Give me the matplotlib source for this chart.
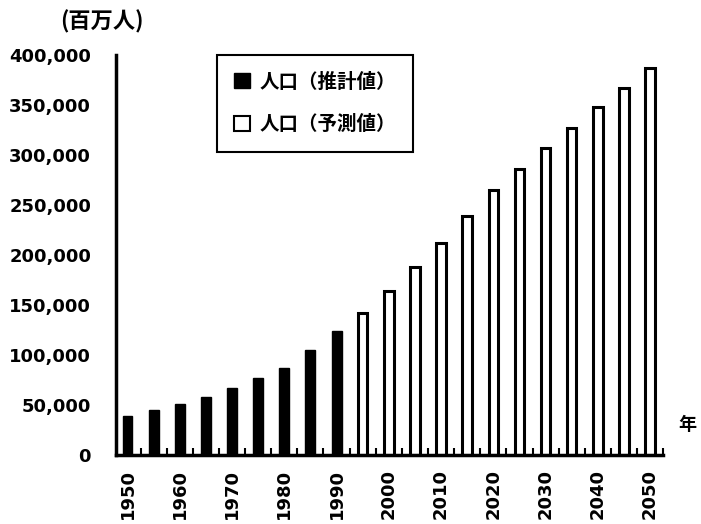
import matplotlib.pyplot as plt
from matplotlib.patches import Patch
import numpy as np

plt.rcParams['font.family'] = ['Noto Sans CJK JP', 'DejaVu Sans']

# World population (millions), estimated up to 1990, projected afterwards.
years_est = [1950, 1955, 1960, 1965, 1970, 1975, 1980, 1985, 1990]
pop_est = [39000, 45000, 51000, 58000, 67000, 77000, 87000, 105000, 124000]
years_proj = [1995, 2000, 2005, 2010, 2015, 2020, 2025, 2030, 2035, 2040, 2045, 2050]
pop_proj = [142000, 164000, 188000, 212000, 239000, 265000, 286000, 307000,
            327000, 348000, 367000, 387000]

yticks = [0, 50000, 100000, 150000, 200000, 250000, 300000, 350000, 400000]
xticks = [1950, 1960, 1970, 1980, 1990, 2000, 2010, 2020, 2030, 2040, 2050]

fig = plt.figure(figsize=(7.01, 5.24), dpi=100)
ax = fig.add_axes([0.1655, 0.1317, 0.7805, 0.7634])

ax.bar(years_est, pop_est, width=1.9, color='black', edgecolor='black', linewidth=1)
ax.bar(years_proj, pop_proj, width=1.8, color='white', edgecolor='black', linewidth=2.2)

ax.set_xlim(1947.8, 2052.2)
ax.set_ylim(0, 400000)

ax.set_yticks(yticks)
ax.set_yticklabels(['{:,}'.format(v) for v in yticks], fontsize=13,
                   fontweight='bold', family='DejaVu Sans')
ax.set_xticks(xticks)
ax.set_xticklabels([str(y) for y in xticks], rotation=90, fontsize=13,
                   fontweight='bold', family='DejaVu Sans')
ax.set_xticks(np.array(years_est + years_proj) + 2.5, minor=True)
ax.tick_params(axis='x', which='major', length=0, pad=10)
ax.tick_params(axis='x', which='minor', direction='in', length=5, width=1.5)
ax.tick_params(axis='y', length=0, pad=18)

for s in ['top', 'right']:
    ax.spines[s].set_visible(False)
for s in ['left', 'bottom']:
    ax.spines[s].set_linewidth(2.5)

fig.text(0.086, 0.958, '(百万人)', fontsize=16, fontweight='bold', va='center')
fig.text(0.967, 0.19, '年', fontsize=13, fontweight='bold', va='center')

handles = [Patch(facecolor='black', edgecolor='black'),
           Patch(facecolor='white', edgecolor='black', linewidth=1.5)]
leg = ax.legend(handles, ['人口（推計値）', '人口（予測値）'], loc='upper left',
                bbox_to_anchor=(0.184, 1.0), borderaxespad=0, fancybox=False,
                framealpha=1, edgecolor='black', handlelength=0.8, handleheight=0.8,
                handletextpad=0.5, labelspacing=1.2, borderpad=0.9,
                prop={'size': 14, 'weight': 'bold'})
leg.get_frame().set_linewidth(1.5)

plt.savefig('out.png', dpi=100)
